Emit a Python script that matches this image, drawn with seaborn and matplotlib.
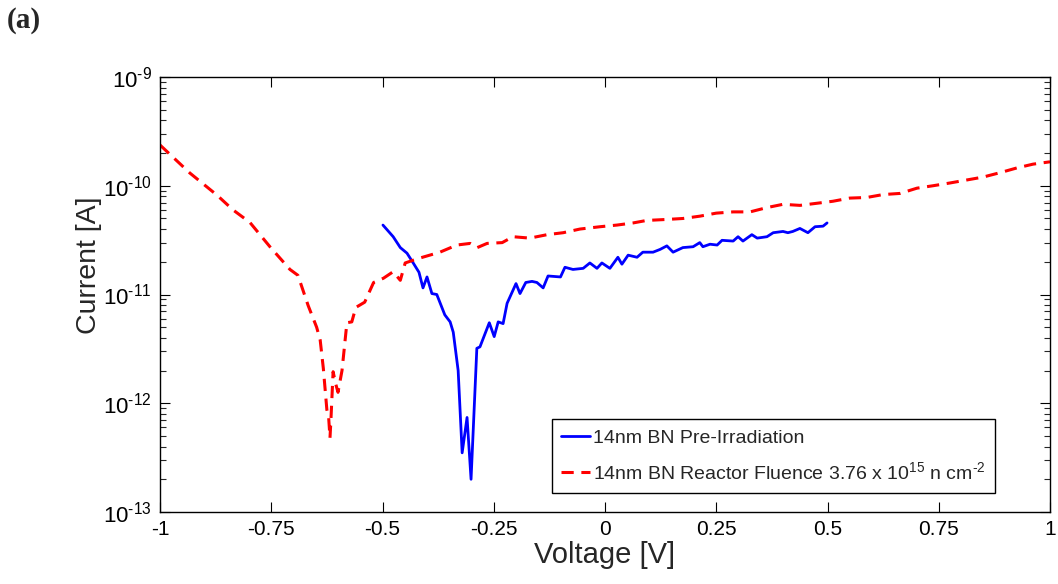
import numpy as np
import pandas as pd
import seaborn as sns
import matplotlib
matplotlib.use("Agg")
import matplotlib.pyplot as plt
from matplotlib.ticker import LogLocator, NullFormatter, FuncFormatter

# ---------------- data ----------------
pre_voltage = [-0.499, -0.476, -0.460, -0.445, -0.431, -0.418, -0.409, -0.400, -0.389, -0.378,
               -0.360, -0.348, -0.341, -0.330, -0.321, -0.310, -0.301, -0.288, -0.281, -0.260,
               -0.249, -0.240, -0.229, -0.220, -0.200, -0.191, -0.178, -0.164, -0.153, -0.139,
               -0.128, -0.100, -0.090, -0.072, -0.049, -0.034, -0.018, -0.007, 0.011, 0.029,
               0.038, 0.052, 0.072, 0.085, 0.108, 0.124, 0.139, 0.153, 0.175, 0.198,
               0.213, 0.220, 0.236, 0.252, 0.263, 0.288, 0.299, 0.310, 0.330, 0.342,
               0.364, 0.378, 0.400, 0.411, 0.422, 0.438, 0.456, 0.472, 0.490, 0.499]
pre_current = [4.35e-11, 3.4e-11, 2.7e-11, 2.4e-11, 1.95e-11, 1.6e-11, 1.15e-11, 1.45e-11, 1.02e-11, 1.0e-11,
               6.5e-12, 5.6e-12, 4.5e-12, 2.0e-12, 3.5e-13, 7.4e-13, 2.0e-13, 3.2e-12, 3.3e-12, 5.5e-12,
               4.1e-12, 5.6e-12, 5.4e-12, 8.3e-12, 1.26e-11, 1.02e-11, 1.29e-11, 1.32e-11, 1.29e-11, 1.15e-11,
               1.48e-11, 1.45e-11, 1.78e-11, 1.7e-11, 1.74e-11, 1.95e-11, 1.74e-11, 1.95e-11, 1.74e-11, 2.2e-11,
               1.9e-11, 2.3e-11, 2.2e-11, 2.45e-11, 2.45e-11, 2.6e-11, 2.8e-11, 2.45e-11, 2.7e-11, 2.75e-11,
               3.0e-11, 2.75e-11, 2.9e-11, 2.85e-11, 3.15e-11, 3.1e-11, 3.4e-11, 3.1e-11, 3.55e-11, 3.3e-11,
               3.4e-11, 3.7e-11, 3.8e-11, 3.7e-11, 3.8e-11, 4.05e-11, 3.7e-11, 4.2e-11, 4.25e-11, 4.55e-11]

irr_voltage = [-1.000, -0.933, -0.872, -0.836, -0.798, -0.753, -0.708, -0.690, -0.667, -0.648,
               -0.640, -0.633, -0.625, -0.621, -0.618, -0.616, -0.611, -0.605, -0.600, -0.591,
               -0.580, -0.569, -0.560, -0.540, -0.520, -0.498, -0.476, -0.460, -0.449, -0.420,
               -0.371, -0.333, -0.303, -0.287, -0.265, -0.231, -0.207, -0.169, -0.130, -0.094,
               -0.056, -0.011, 0.027, 0.063, 0.094, 0.139, 0.175, 0.213, 0.250, 0.288,
               0.326, 0.364, 0.400, 0.438, 0.476, 0.512, 0.550, 0.588, 0.625, 0.663,
               0.701, 0.737, 0.775, 0.813, 0.849, 0.888, 0.926, 0.962, 1.000]
irr_current = [2.37e-10, 1.31e-10, 8.2e-11, 6.0e-11, 4.6e-11, 2.75e-11, 1.7e-11, 1.5e-11, 7.9e-12, 5.0e-12,
               3.8e-12, 2.1e-12, 8.7e-13, 7.4e-13, 4.8e-13, 6.9e-13, 1.95e-12, 1.5e-12, 1.26e-12, 2.0e-12,
               5.5e-12, 5.6e-12, 7.6e-12, 8.5e-12, 1.29e-11, 1.41e-11, 1.62e-11, 1.35e-11, 1.95e-11, 2.14e-11,
               2.45e-11, 2.85e-11, 2.95e-11, 2.7e-11, 2.95e-11, 3.0e-11, 3.4e-11, 3.3e-11, 3.55e-11, 3.7e-11,
               4.0e-11, 4.2e-11, 4.35e-11, 4.55e-11, 4.8e-11, 4.9e-11, 5.0e-11, 5.25e-11, 5.6e-11, 5.75e-11,
               5.75e-11, 6.3e-11, 6.75e-11, 6.6e-11, 6.9e-11, 7.2e-11, 7.7e-11, 7.8e-11, 8.3e-11, 8.5e-11,
               9.5e-11, 1.0e-10, 1.06e-10, 1.13e-10, 1.2e-10, 1.32e-10, 1.46e-10, 1.58e-10, 1.66e-10]

x_ticks = [-1, -0.75, -0.5, -0.25, 0, 0.25, 0.5, 0.75, 1]
x_tick_labels = ["-1", "-0.75", "-0.5", "-0.25", "0", "0.25", "0.5", "0.75", "1"]
label_pre = "14nm BN Pre-Irradiation"
label_irr = "14nm BN Reactor Fluence 3.76 x 10$^{15}$ n cm$^{\\text{-}2}$"

# ---------------- style ----------------
sns.set_style("ticks")
plt.rcParams["font.family"] = ["Liberation Sans", "DejaVu Sans"]
plt.rcParams["mathtext.fontset"] = "custom"
plt.rcParams["mathtext.rm"] = "Liberation Sans"
plt.rcParams["mathtext.it"] = "Liberation Sans:italic"
plt.rcParams["mathtext.bf"] = "Liberation Sans:bold"
plt.rcParams["axes.unicode_minus"] = False

fig = plt.figure(figsize=(10.58, 5.84), dpi=100)
ax = fig.add_axes([160 / 1058, 1 - 512 / 584, 890 / 1058, 435 / 584])

df_pre = pd.DataFrame({"Voltage": pre_voltage, "Current": pre_current})
df_irr = pd.DataFrame({"Voltage": irr_voltage, "Current": irr_current})

sns.lineplot(data=df_pre, x="Voltage", y="Current", ax=ax, color="#0000ff",
             linewidth=2.0, sort=False, estimator=None, label=label_pre)
sns.lineplot(data=df_irr, x="Voltage", y="Current", ax=ax, color="#ff0000",
             linewidth=2.2, sort=False, estimator=None, label=label_irr,
             dashes=False)
ax.lines[-1].set_dashes((4, 2.5))

ax.set_yscale("log")
ax.set_xlim(-1, 1)
ax.set_ylim(1e-13, 1e-9)
ax.set_xticks(x_ticks)
ax.set_xticklabels(x_tick_labels)
ax.yaxis.set_major_locator(LogLocator(base=10, numticks=10))
ax.yaxis.set_major_formatter(FuncFormatter(
    lambda v, p: "$10^{\\text{-}%d}$" % round(-np.log10(v))))
ax.yaxis.set_minor_locator(LogLocator(base=10, subs=np.arange(2, 10), numticks=20))
ax.yaxis.set_minor_formatter(NullFormatter())
ax.xaxis.get_offset_text().set_visible(False)
ax.yaxis.get_offset_text().set_visible(False)

ax.tick_params(axis="both", which="major", direction="in", length=7, width=0.8,
               top=True, right=True, labelsize=15, pad=6, colors="black")
ax.tick_params(axis="y", which="major", labelsize=16)
ax.tick_params(axis="y", which="minor", direction="in", length=4, width=0.8,
               left=True, right=True)
for s in ax.spines.values():
    s.set_linewidth(1.0)
    s.set_color("black")

ax.set_xlabel("Voltage [V]", fontsize=21, labelpad=1)
ax.set_ylabel("Current [A]", fontsize=20.5)
ax.yaxis.set_label_coords(-0.065, 0.568)

leg = ax.legend(loc="lower right", bbox_to_anchor=(0.938, 0.044), borderaxespad=0,
                fontsize=14, frameon=True, fancybox=False, handlelength=1.45,
                handletextpad=0.15, labelspacing=0.75, borderpad=0.5)
leg.get_frame().set_edgecolor("black")
leg.get_frame().set_linewidth(1.0)
leg.get_frame().set_alpha(1)

fig.text(0.006, 0.988, "(a)", fontfamily="Liberation Serif", fontweight="bold",
         fontsize=21, va="top", ha="left")

fig.savefig("out.png", dpi=100)
